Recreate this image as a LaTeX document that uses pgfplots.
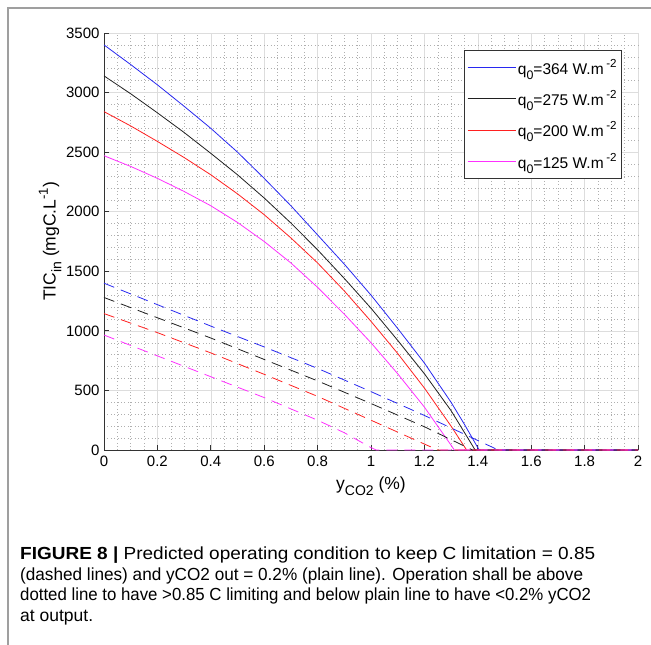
\documentclass[border=0pt]{standalone}
\usepackage{fontspec}
\setmainfont{Liberation Sans}
\usepackage{graphicx}
\usepackage{pgfplots}
\pgfplotsset{compat=1.18}
\definecolor{gridmaj}{HTML}{DDDDDD}
\definecolor{gridmin}{HTML}{AFAFAF}
\definecolor{mblue}{HTML}{2828F0}
\definecolor{mblack}{HTML}{202020}
\definecolor{mred}{HTML}{FF2020}
\definecolor{mmag}{HTML}{FF30FF}
\newcommand{\lsub}[1]{\raisebox{-0.32em}{\fontsize{0.8em}{0.8em}\selectfont #1}}
\newcommand{\lsup}[1]{\raisebox{0.45em}{\fontsize{0.75em}{0.75em}\selectfont #1}}
\begin{document}
\begin{tikzpicture}
\useasboundingbox (-104bp,-195bp) rectangle (547bp,450bp);
\draw[gray!75, line width=1.1bp] (-96bp,-195bp) -- (-96bp,442bp) -- (547bp,442bp);
\begin{axis}[
  at={(0,0)}, anchor=south west,
  scale only axis, width=534bp, height=417bp,
  xmin=0, xmax=2, ymin=0, ymax=3500,
  axis x line*=bottom, axis y line*=left,
  axis line style={black!80, line width=0.8bp},
  xtick={0,0.2,...,2.01}, ytick={0,500,...,3500},
  minor x tick num=3, minor y tick num=4,
  tick align=inside, major tick length=5bp, minor tick length=0pt,
  tick style={black!80, line width=0.8bp},
  grid=both,
  major grid style={gridmaj, line width=0.6bp},
  minor grid style={gridmin, line width=0.5bp, dash pattern=on 0.6bp off 2.8bp},
  /pgf/number format/assume math mode=true,
  /pgf/number format/1000 sep={},
  ticklabel style={font=\fontsize{15bp}{18bp}\selectfont},
  xticklabel style={yshift=-3bp},
  yticklabel style={xshift=-1bp},
  xlabel={y\lsub{CO2} (\%)},
  ylabel={TIC\lsub{in} (mgC.L\lsup{-1})},
  label style={font=\fontsize{17.5bp}{20bp}\selectfont},
  xlabel style={yshift=-3bp},
  ylabel style={yshift=-2bp},
  clip=false,
  legend style={at={(0.970,0.960)}, anchor=north east, draw=black!80, line width=0.8bp,
    font=\fontsize{15.5bp}{18bp}\selectfont, row sep=10.8bp, inner xsep=3bp, inner ysep=7bp,
    legend cell align=left},
  legend image code/.code={\draw[#1, line width=0.8bp] (0bp,0bp) -- (48bp,0bp);},
  every axis plot/.append style={line width=0.8bp},
]
\addplot[color=mblue, draw=mblue] coordinates {(0,3400)(0.1,3235)(0.2,3065)(0.3,2885)(0.4,2700)(0.5,2500)(0.6,2280)(0.7,2050)(0.8,1805)(0.9,1560)(1.0,1300)(1.1,1020)(1.2,730)(1.3,400)(1.35,215)(1.405,0)(2,0)};
\addlegendentry{q\lsub{0}=364 W.m\,\lsup{-2}}
\addplot[color=mblack, draw=mblack] coordinates {(0,3140)(0.1,2990)(0.2,2830)(0.3,2665)(0.4,2490)(0.5,2310)(0.6,2115)(0.7,1905)(0.8,1680)(0.9,1440)(1.0,1190)(1.1,920)(1.2,640)(1.3,330)(1.39,0)(2,0)};
\addlegendentry{q\lsub{0}=275 W.m\,\lsup{-2}}
\addplot[color=mred, draw=mred] coordinates {(0,2840)(0.1,2720)(0.2,2590)(0.3,2455)(0.4,2310)(0.5,2150)(0.6,1975)(0.7,1780)(0.8,1570)(0.9,1335)(1.0,1080)(1.1,810)(1.2,520)(1.3,200)(1.358,0)(2,0)};
\addlegendentry{q\lsub{0}=200 W.m\,\lsup{-2}}
\addplot[color=mmag, draw=mmag] coordinates {(0,2470)(0.1,2380)(0.2,2280)(0.3,2170)(0.4,2050)(0.5,1910)(0.6,1750)(0.7,1570)(0.8,1365)(0.9,1140)(1.0,900)(1.1,640)(1.2,360)(1.3,40)(1.312,0)(2,0)};
\addlegendentry{q\lsub{0}=125 W.m\,\lsup{-2}}
\addplot[color=mblue, draw=mblue, dash pattern=on 11bp off 7bp, forget plot] coordinates {(0,1400)(0.2,1220)(0.4,1040)(0.6,865)(0.8,685)(1.0,490)(1.2,290)(1.4,80)(1.477,0)(2,0)};
\addplot[color=mblack, draw=mblack, dash pattern=on 11bp off 7bp, forget plot] coordinates {(0,1280)(0.2,1110)(0.4,940)(0.6,760)(0.8,580)(1.0,390)(1.2,195)(1.38,0)(2,0)};
\addplot[color=mred, draw=mred, dash pattern=on 11bp off 7bp, forget plot] coordinates {(0,1145)(0.2,985)(0.4,815)(0.6,635)(0.8,450)(1.0,250)(1.2,50)(1.25,0)(2,0)};
\addplot[color=mmag, draw=mmag, dash pattern=on 11bp off 7bp, forget plot] coordinates {(0,965)(0.2,790)(0.4,615)(0.6,440)(0.8,250)(0.9,145)(1.0,20)(1.02,0)(2,0)};
\end{axis}
\node[anchor=north west, inner sep=0pt, align=left, font=\fontsize{17.5bp}{20.5bp}\selectfont] at (-84bp,-97bp)
{\resizebox{575bp}{\height}{\textbf{FIGURE 8 |} Predicted operating condition to keep C limitation = 0.85}\\
\resizebox{563bp}{\height}{(dashed lines) and yCO2 out = 0.2\% (plain line). Operation shall be above}\\
\resizebox{571bp}{\height}{dotted line to have >0.85 C limiting and below plain line to have <0.2\% yCO2}\\
at output.};
\end{tikzpicture}
\end{document}
